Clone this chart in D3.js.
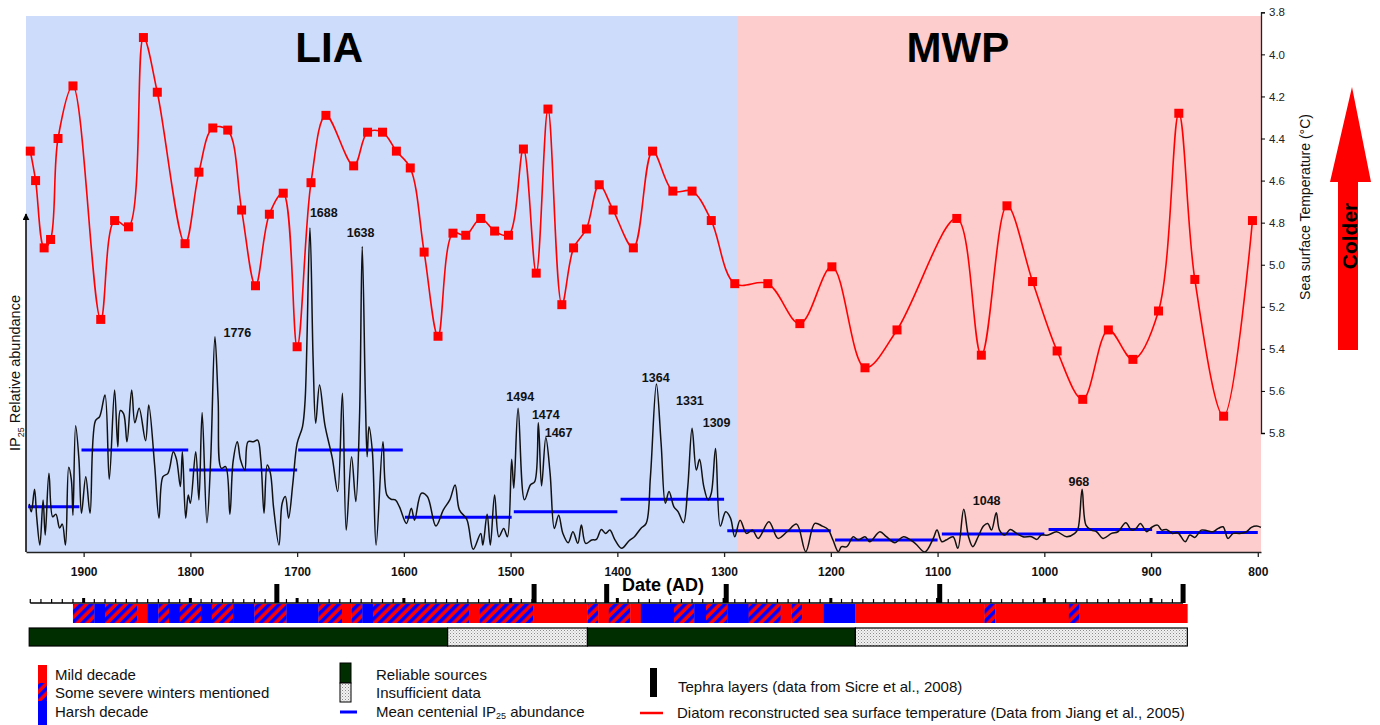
<!DOCTYPE html>
<html><head><meta charset="utf-8">
<script src="https://cdn.jsdelivr.net/npm/d3@7"></script>
<style>
body{margin:0;background:#fff;}
svg{display:block;font-family:"Liberation Sans",Arial,Helvetica,sans-serif;}
</style>
</head><body>
<svg id="chart" width="1380" height="725"></svg>
<script>
// ---------------- DATA ----------------
const periodNames = ["LIA", "MWP"];
const periodFrom = [1954, 1287];
const periodTo = [1287, 797];
const periodLabelYear = [1670, 1081];

const sstTicks = [3.8, 4.0, 4.2, 4.4, 4.6, 4.8, 5.0, 5.2, 5.4, 5.6, 5.8];
const yearTicks = [1900, 1800, 1700, 1600, 1500, 1400, 1300, 1200, 1100, 1000, 900, 800];

// Diatom reconstructed SST (deg C)
const sstYears = [1950,1945,1937,1931,1924,1910,1884,1871,1858,1844,1831,1805,1792,1779,1765,1752,1739,1726,1713,1700,1687,1673,1647,1634,1620,1607,1594,1581,1568,1554,1542,1528,1515,1502,1488,1476,1465,1452,1441,1429,1417,1404,1385,1367,1348,1330,1312,1290,1259,1229,1199,1168,1138,1082,1059,1035,1011,988,964,940,917,893,874,859,832,805];
const sstTemps = [4.46,4.60,4.92,4.88,4.40,4.15,5.26,4.79,4.82,3.92,4.18,4.90,4.56,4.35,4.36,4.74,5.10,4.76,4.66,5.39,4.61,4.29,4.53,4.37,4.37,4.46,4.54,4.94,5.34,4.85,4.86,4.78,4.84,4.86,4.45,5.04,4.26,5.19,4.92,4.83,4.62,4.74,4.92,4.46,4.65,4.65,4.79,5.09,5.09,5.28,5.01,5.49,5.31,4.78,5.43,4.72,5.08,5.41,5.64,5.31,5.45,5.22,4.28,5.07,5.72,4.79];

// IP25 relative abundance (arbitrary units 0-100)
const ipYears = [1951,1949,1946,1944,1941,1938,1936,1932.5,1929,1926,1922.5,1920,1917,1914,1911.5,1910,1907.5,1904.4,1902,1898,1894,1889,1885,1880,1876,1871,1868,1865.6,1862.5,1859.4,1855,1852,1848,1842,1839,1833.5,1829.4,1825.7,1821,1816,1813,1809.4,1807.5,1804.4,1802,1800,1795,1792,1789,1784.5,1781,1777,1774,1771,1767,1763,1760,1756,1753,1749,1746,1741,1737,1734,1731,1728,1725,1722,1717,1714,1711,1708,1704,1700,1695,1692.5,1688,1685,1682.6,1679,1674,1667,1662,1657.6,1654,1649,1645,1641.6,1639,1636,1634.4,1632.7,1629.5,1626,1619.6,1616,1612,1608,1604,1597.6,1593,1590,1583.6,1578,1570,1563,1557,1552,1548,1541,1535,1528,1526,1522,1519,1515,1511,1506.5,1503,1499,1497,1493,1487,1481.5,1477.4,1474,1471,1467,1463,1459,1455,1451,1446,1441.6,1437,1433.7,1429.7,1424,1419.6,1415,1411,1407,1402.5,1396,1389,1384,1378,1373,1369,1363.4,1359,1355,1351.6,1347,1343,1338,1334,1330,1326,1323,1319,1315,1312,1308,1303.5,1298.5,1294,1290,1285,1279,1273.5,1268,1258,1249.5,1241,1232,1223.5,1215,1208,1202.6,1198,1193,1190,1185,1179,1174.5,1168,1163.6,1154,1148,1140,1132,1121,1112,1104,1100.5,1096,1092,1085.5,1081,1075.5,1071,1067,1062,1057,1053,1049.5,1045,1042,1037,1032,1026,1020,1012,1007,1003,996.5,988.6,979,971.5,968.4,964.6,961,956,951,945,937,931,923.7,918.4,914,910,904,899.6,894,890,885.6,880,875,868,863.7,859,853,847.5,842,837,832.5,828,823,817,810.6,806,801,797];
const ipValues = [14.5,12.1,18.9,10.6,2.1,15.7,5.1,23.7,10.6,11.4,7.2,8.4,2.1,25.5,21.7,11.1,38,27.9,11.7,22.7,11.7,39.5,40.8,47.3,21.9,48.8,31.7,42.6,41.6,33.2,48.8,38.9,43.3,33.5,44.3,26.2,10.2,22.7,23.7,30.2,27.9,19.7,30.2,10.2,17.2,14.7,30.2,15.7,42,8.8,27.7,64.8,45.8,25.2,25.7,11.4,27.2,33.2,27.7,24.7,33.2,33.2,33.7,27.7,11.7,26.2,23.7,13.2,2.1,14.7,16.7,10.2,20.7,32.7,37.7,45.8,97.6,57.8,38.8,50.3,38.3,28.2,18.2,47.8,6.6,28.7,15.2,39.8,92,45.8,28.7,37.7,30.2,2.1,33.2,17.2,15.9,15.7,13.5,8.6,13.2,9.6,17.7,16.7,7.8,12.7,15.7,20.2,12.7,9.8,0.8,5.6,2.1,11.4,2.1,17.2,4.6,7.1,4.6,27.9,19.2,43.3,15.7,20.2,21.2,38.9,19.9,34.5,23.7,7.1,11.1,5.6,2.8,6.1,2.6,8.1,2.6,3.6,3.8,6.8,5.6,6.6,3.8,1.1,3.4,4.6,7.1,8.6,22.7,50.6,32.7,14.7,18.2,13.6,12.1,8.8,19.7,37.3,24.7,27.9,19.7,15.7,17.7,31.2,7.8,12.1,10.2,4.6,9.6,5.6,6.6,4.1,9.1,4.1,6.1,8.4,0.1,8.6,7.8,6.8,3.6,0.1,1.6,1.6,4.6,3.6,4.6,3.1,6.1,4.6,2.8,4.6,2.6,0,4.1,6.6,3.1,3.6,4.6,1.1,12.9,4.6,1.6,4.6,7.8,8.6,6.6,11.8,6.6,5.1,6.8,5.6,4.6,4.6,3.8,5.1,5.1,6.1,4.6,5.6,7.1,18.9,8.1,6.6,6.1,4.1,5.6,6.1,8.8,6.6,7.1,8.6,6.1,7.4,8.1,6.6,6.8,5.6,5.8,3.1,5.1,4.4,6.6,6.4,6.1,7.1,7.6,4.1,5.6,5.6,6.1,7.4,7.8,7.4];

// Mean centennial IP25 abundance
const meanFrom = [1952, 1902, 1801, 1699, 1599, 1497, 1397, 1297, 1196, 1096, 996, 895];
const meanTo = [1904, 1802, 1700, 1601, 1499, 1400, 1300, 1200, 1100, 1000, 899, 800];
const meanValues = [13.6, 30.7, 24.7, 30.7, 10.5, 12.1, 15.9, 6.4, 3.6, 5.4, 6.8, 5.9];

// Peak annotations (label position in data units)
const peakText = ["1776", "1688", "1638", "1494", "1474", "1467", "1364", "1331", "1309", "1048", "968"];
const peakLabelYear = [1756, 1675, 1640.5, 1491, 1467, 1455, 1364, 1332, 1307, 1054, 967.6];
const peakLabelValue = [64.8, 100.9, 94.9, 45.6, 40, 34.7, 51.3, 44.3, 37.6, 14.1, 19.9];

// Decadal classification: M = mild, S = some severe winters, H = harsh
const bandFrom = [1910,1890,1880,1850,1840,1830,1820,1810,1790,1780,1760,1740,1710,1680,1658,1649,1639,1629,1539,1529,1479,1428,1418,1408,1388,1378,1347,1328,1317,1297,1277,1247,1237,1227,1207,1177,1056,1046,977,967];
const bandTo   = [1890,1880,1850,1840,1830,1820,1810,1790,1780,1760,1740,1710,1680,1658,1649,1639,1629,1539,1529,1479,1428,1418,1408,1388,1378,1347,1328,1317,1297,1277,1247,1237,1227,1207,1177,1056,1046,977,967,866];
const bandType = ["S","H","S","M","H","S","H","S","H","S","H","S","H","S","M","S","H","S","M","S","M","S","M","S","M","H","S","H","S","H","S","M","S","M","H","M","S","M","S","M"];

// Source reliability
const sourceFrom = [1951, 1559, 1428, 1177];
const sourceTo = [1559, 1428, 1177, 866];
const sourceType = ["reliable", "insufficient", "reliable", "insufficient"];

// Tephra layers
const tephraYears = [1719, 1478, 1410, 1298, 1098, 870];
const rulerFrom = 1950, rulerTo = 870;

// ---------------- DRAWING ----------------
const svg = d3.select("#chart");
const defs = svg.append("defs");

const hatch = defs.append("pattern").attr("id", "hatch").attr("patternUnits", "userSpaceOnUse")
  .attr("width", 7).attr("height", 7).attr("patternTransform", "rotate(45)");
hatch.append("rect").attr("width", 7).attr("height", 7).attr("fill", "#ff0000");
hatch.append("rect").attr("width", 3.5).attr("height", 7).attr("fill", "#0000ff");

const stip = defs.append("pattern").attr("id", "stipple").attr("patternUnits", "userSpaceOnUse")
  .attr("width", 3).attr("height", 3);
stip.append("rect").attr("width", 3).attr("height", 3).attr("fill", "#f2f2f2");
stip.append("rect").attr("width", 1).attr("height", 1).attr("fill", "#8a8a8a");
stip.append("rect").attr("x", 1.5).attr("y", 1.5).attr("width", 1).attr("height", 1).attr("fill", "#b0b0b0");

defs.append("marker").attr("id", "arrowhead").attr("viewBox", "0 0 10 10").attr("refX", 9).attr("refY", 5)
  .attr("markerWidth", 7).attr("markerHeight", 7).attr("markerUnits", "userSpaceOnUse").attr("orient", "auto")
  .append("path").attr("d", "M0,0 L10,5 L0,10 Z").attr("fill", "#000");

const x = d3.scaleLinear().domain([1954, 797]).range([26, 1261]);
const ySST = d3.scaleLinear().domain([3.8, 5.8]).range([12.3, 433]);
const yIP = d3.scaleLinear().domain([0, 100]).range([552, 220]);
const plotTop = 16, plotBottom = 552;

const periodFill = ["#cddcfb", "#fdcccc"];
periodNames.forEach((n, i) => {
  svg.append("rect").attr("x", x(periodFrom[i])).attr("y", plotTop)
    .attr("width", x(periodTo[i]) - x(periodFrom[i])).attr("height", plotBottom - plotTop)
    .attr("fill", periodFill[i]);
  svg.append("text").attr("x", x(periodLabelYear[i])).attr("y", 62).attr("text-anchor", "middle")
    .attr("font-size", 42).attr("font-weight", "bold").attr("fill", "#000").text(n);
});

// Mean centennial lines
meanValues.forEach((v, i) => {
  svg.append("line").attr("x1", x(meanFrom[i])).attr("x2", x(meanTo[i]))
    .attr("y1", yIP(v)).attr("y2", yIP(v)).attr("stroke", "#0000ff").attr("stroke-width", 3);
});

// IP25 curve
const ipData = ipYears.map((yr, i) => [yr, ipValues[i]]);
svg.append("path").datum(ipData)
  .attr("d", d3.line().x(d => x(d[0])).y(d => yIP(d[1])).curve(d3.curveCatmullRom.alpha(0.5)))
  .attr("fill", "none").attr("stroke", "#111").attr("stroke-width", 1.5);

// SST curve
const sstData = sstYears.map((yr, i) => [yr, sstTemps[i]]);
svg.append("path").datum(sstData)
  .attr("d", d3.line().x(d => x(d[0])).y(d => ySST(d[1])).curve(d3.curveCatmullRom.alpha(0.5)))
  .attr("fill", "none").attr("stroke", "#ff0000").attr("stroke-width", 1.6);
svg.append("g").selectAll("rect").data(sstData).join("rect")
  .attr("x", d => x(d[0]) - 4.5).attr("y", d => ySST(d[1]) - 4.5)
  .attr("width", 9).attr("height", 9).attr("fill", "#ff0000");

// Peak labels
svg.append("g").selectAll("text").data(peakText).join("text")
  .attr("x", (d, i) => x(peakLabelYear[i])).attr("y", (d, i) => yIP(peakLabelValue[i]))
  .attr("text-anchor", "middle").attr("font-size", 12.5).attr("font-weight", "bold").attr("fill", "#111")
  .text(d => d);

// Bottom axis
const xAxis = svg.append("g").attr("transform", `translate(0,${plotBottom})`)
  .call(d3.axisBottom(x).tickValues(yearTicks).tickFormat(d3.format("d")).tickSize(5).tickSizeOuter(0).tickPadding(10));
xAxis.select(".domain").attr("stroke", "#222").attr("stroke-width", 1.5);
xAxis.selectAll(".tick line").attr("stroke", "#222").attr("stroke-width", 1.3);
xAxis.selectAll("text").attr("font-size", 12).attr("font-weight", "bold").attr("fill", "#111")
  .attr("font-family", "'Liberation Sans',Arial,sans-serif");

svg.append("text").attr("x", 663).attr("y", 591).attr("text-anchor", "middle")
  .attr("font-size", 18).attr("font-weight", "bold").text("Date (AD)");

// Right SST axis
const yAxisR = svg.append("g").attr("transform", `translate(${x(797)},0)`)
  .call(d3.axisRight(ySST).tickValues(sstTicks).tickFormat(d3.format(".1f")).tickSize(4).tickPadding(4));
yAxisR.select(".domain").attr("stroke", "#222").attr("stroke-width", 1.3);
yAxisR.selectAll("text").attr("font-size", 11.5).attr("fill", "#222")
  .attr("font-family", "'Liberation Sans',Arial,sans-serif");

svg.append("text").attr("transform", "translate(1310,207) rotate(-90)").attr("text-anchor", "middle")
  .attr("font-size", 14).attr("fill", "#111").text("Sea surface Temperature (°C)");

// Colder arrow
svg.append("path").attr("d", "M1338,350 L1338,182 L1330,182 L1352,87 L1371,182 L1358,182 L1358,350 Z")
  .attr("fill", "#ff0000");
svg.append("text").attr("transform", "translate(1357,236) rotate(-90)").attr("text-anchor", "middle")
  .attr("font-size", 21).attr("font-weight", "bold").attr("fill", "#000").text("Colder");

// Left IP25 axis (arrow)
svg.append("line").attr("x1", x(1954)).attr("x2", x(1954)).attr("y1", yIP(0)).attr("y2", yIP(100) - 6)
  .attr("stroke", "#000").attr("stroke-width", 1.5).attr("marker-end", "url(#arrowhead)");
const ipLabel = svg.append("text").attr("transform", "translate(20,373) rotate(-90)")
  .attr("text-anchor", "middle").attr("font-size", 14.5).attr("fill", "#111");
ipLabel.append("tspan").text("IP");
ipLabel.append("tspan").attr("font-size", 9).attr("dy", 4).text("25");
ipLabel.append("tspan").attr("dy", -4).text(" Relative abundance");

// Ruler with decadal ticks
const rulerY = 603;
svg.append("line").attr("x1", x(rulerFrom)).attr("x2", x(rulerTo)).attr("y1", rulerY).attr("y2", rulerY)
  .attr("stroke", "#000").attr("stroke-width", 1.5);
const decades = d3.range(rulerFrom, rulerTo - 1, -10);
svg.append("g").selectAll("line").data(decades).join("line")
  .attr("x1", d => x(d)).attr("x2", d => x(d)).attr("y1", rulerY).attr("y2", d => d % 100 === 0 ? rulerY - 5 : rulerY - 4)
  .attr("stroke", "#000").attr("stroke-width", d => d % 100 === 0 ? 3 : 1.2);

// Tephra layers
svg.append("g").selectAll("rect").data(tephraYears).join("rect")
  .attr("x", d => x(d) - 2.5).attr("y", 584).attr("width", 5).attr("height", rulerY - 584).attr("fill", "#000");

// Decadal band
const bandFill = { M: "#ff0000", S: "url(#hatch)", H: "#0000ff" };
svg.append("g").selectAll("rect").data(bandType).join("rect")
  .attr("x", (d, i) => x(bandFrom[i])).attr("y", 604)
  .attr("width", (d, i) => x(bandTo[i]) - x(bandFrom[i]) + 0.3).attr("height", 19)
  .attr("fill", d => bandFill[d]);

// Source reliability band
const sourceFill = { reliable: "#002e00", insufficient: "url(#stipple)" };
svg.append("g").selectAll("rect").data(sourceType).join("rect")
  .attr("x", (d, i) => x(sourceFrom[i])).attr("y", 628)
  .attr("width", (d, i) => x(sourceTo[i]) - x(sourceFrom[i])).attr("height", 18)
  .attr("fill", d => sourceFill[d]).attr("stroke", "#000").attr("stroke-width", 1.2);

// ---------------- LEGEND ----------------
const leg = svg.append("g").attr("font-size", 15).attr("fill", "#111");
leg.append("rect").attr("x", 38).attr("y", 665).attr("width", 9).attr("height", 18).attr("fill", "#ff0000");
leg.append("rect").attr("x", 38).attr("y", 683).attr("width", 9).attr("height", 18).attr("fill", "url(#hatch)");
leg.append("rect").attr("x", 38).attr("y", 701).attr("width", 9).attr("height", 24).attr("fill", "#0000ff");
leg.append("text").attr("x", 55).attr("y", 680).text("Mild decade");
leg.append("text").attr("x", 55).attr("y", 698).text("Some severe winters mentioned");
leg.append("text").attr("x", 55).attr("y", 717).text("Harsh decade");

leg.append("rect").attr("x", 340).attr("y", 663).attr("width", 11).attr("height", 20).attr("fill", "#002e00").attr("stroke", "#000");
leg.append("rect").attr("x", 340).attr("y", 683).attr("width", 11).attr("height", 19).attr("fill", "url(#stipple)").attr("stroke", "#000");
leg.append("line").attr("x1", 340).attr("x2", 357).attr("y1", 712).attr("y2", 712).attr("stroke", "#0000ff").attr("stroke-width", 3);
leg.append("text").attr("x", 376).attr("y", 680).text("Reliable sources");
leg.append("text").attr("x", 376).attr("y", 698).text("Insufficient data");
const mt = leg.append("text").attr("x", 376).attr("y", 717);
mt.append("tspan").text("Mean centenial IP");
mt.append("tspan").attr("font-size", 9).attr("dy", 2).text("25");
mt.append("tspan").attr("dy", -2).text(" abundance");

leg.append("rect").attr("x", 650).attr("y", 668).attr("width", 7).attr("height", 29).attr("fill", "#000");
leg.append("line").attr("x1", 640).attr("x2", 663).attr("y1", 713).attr("y2", 713).attr("stroke", "#ff0000").attr("stroke-width", 2.5);
leg.append("text").attr("x", 678).attr("y", 692).text("Tephra layers (data from Sicre et al., 2008)");
leg.append("text").attr("x", 677).attr("y", 718).text("Diatom reconstructed sea surface temperature (Data from Jiang et al., 2005)");
</script>
</body></html>
